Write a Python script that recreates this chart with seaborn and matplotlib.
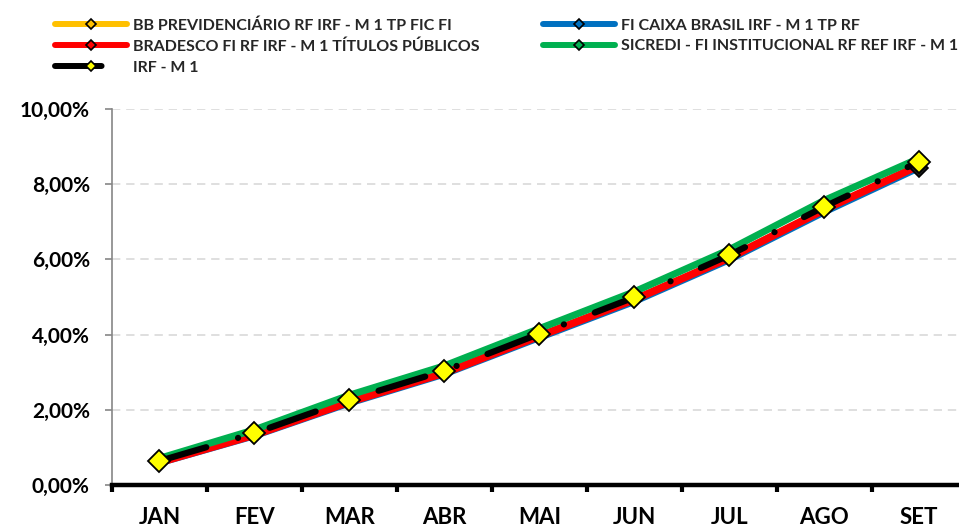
import matplotlib
matplotlib.use("Agg")
import matplotlib.pyplot as plt
import seaborn as sns
import numpy as np
from matplotlib.lines import Line2D

# ---- data ----
months = ["JAN", "FEV", "MAR", "ABR", "MAI", "JUN", "JUL", "AGO", "SET"]
bb_prev = [0.61, 1.34, 2.22, 2.99, 3.97, 4.94, 6.05, 7.33, 8.49]
caixa = [0.57, 1.29, 2.16, 2.93, 3.90, 4.86, 5.97, 7.24, 8.42]
bradesco = [0.60, 1.33, 2.21, 2.98, 3.96, 4.93, 6.04, 7.32, 8.50]
sicredi = [0.71, 1.47, 2.39, 3.17, 4.16, 5.14, 6.26, 7.57, 8.69]
irf_m1 = [0.64, 1.38, 2.27, 3.04, 4.02, 4.99, 6.11, 7.40, 8.60]

labels = {
    "bb": "BB PREVIDENCIÁRIO RF IRF - M 1 TP FIC FI",
    "caixa": "FI CAIXA BRASIL IRF - M 1 TP RF",
    "bradesco": "BRADESCO FI RF IRF - M 1 TÍTULOS PÚBLICOS",
    "sicredi": "SICREDI - FI INSTITUCIONAL RF REF IRF - M 1",
    "irf": "IRF - M 1",
}
yticks = [0, 2, 4, 6, 8, 10]
ytick_labels = ["0,00%", "2,00%", "4,00%", "6,00%", "8,00%", "10,00%"]

# ---- style ----
sns.set_theme(style="white")
plt.rcParams['font.family'] = ['Lato', 'DejaVu Sans']
plt.rcParams['font.weight'] = 'bold'

fig = plt.figure(figsize=(9.59, 5.31), dpi=100)
ax = fig.add_axes([112 / 959, 46 / 531, 847 / 959, 376 / 531])

x = np.arange(len(months))
irf_dash = (0, (7.8, 5.3, 0.01, 5.3))

series = [
    ("bb", bb_prev, "#FFC000", 4.5, 1),
    ("caixa", caixa, "#0070C0", 4.0, 2),
    ("bradesco", bradesco, "#FF0000", 5.5, 3),
    ("sicredi", sicredi, "#00B050", 5.0, 4),
]
for key, vals, col, lw, z in series:
    sns.lineplot(x=x, y=vals, ax=ax, color=col, lw=lw,
                 solid_capstyle="round", legend=False, zorder=z,
                 errorbar=None)

# end-point marker peeking out below the last IRF diamond
sns.lineplot(x=x, y=caixa, ax=ax, color="#0070C0", lw=0, marker="D",
             markersize=9, markerfacecolor="#1F1F1F", markeredgecolor="black",
             markeredgewidth=1.2, markevery=[len(months) - 1], legend=False,
             zorder=5, errorbar=None)

sns.lineplot(x=x, y=irf_m1, ax=ax, color="black", lw=4.5, linestyle=irf_dash,
             dash_capstyle="round", marker="D", markersize=11.5,
             markerfacecolor="#FFFF00", markeredgecolor="black",
             markeredgewidth=1.3, legend=False, zorder=6, errorbar=None)

# ---- axes ----
ax.set_xlim(-0.5, 8.42)
ax.set_ylim(0, 10)
ax.set_xlabel("")
ax.set_ylabel("")
ax.set_xticks(x)
ax.set_xticklabels(months, fontsize=16, fontweight="bold")
ax.set_xticks(np.arange(-0.5, 8.5, 1), minor=True)
ax.tick_params(axis="x", which="major", length=0, pad=16, colors="black")
ax.tick_params(axis="x", which="minor", length=5, width=3, direction="out",
               color="black", bottom=True)
ax.set_yticks(yticks)
ax.set_yticklabels(ytick_labels, fontsize=15, fontweight="bold")
ax.tick_params(axis="y", which="major", length=5, width=1.2, direction="out",
               color="#868686", left=True, pad=11, labelcolor="black")

ax.yaxis.grid(True, linestyle=(0, (5, 3.5)), color="#D9D9D9", lw=1.2)
ax.xaxis.grid(False)
ax.set_axisbelow(True)
for s in ["top", "right"]:
    ax.spines[s].set_visible(False)
ax.spines["left"].set_color("#868686")
ax.spines["left"].set_linewidth(1.2)
ax.spines["bottom"].set_color("black")
ax.spines["bottom"].set_linewidth(3.2)
ax.spines["bottom"].set_zorder(7)

# ---- legend ----
def proxy(col, face, ls="-", ms=5):
    return Line2D([], [], color=col, lw=4.3, linestyle=ls, marker="D",
                  markersize=ms, markerfacecolor=face, markeredgecolor="black",
                  markeredgewidth=1.2, solid_capstyle="round",
                  dash_capstyle="round")

handles = [
    proxy("#FFC000", "#FFC000"),
    proxy("#FF0000", "#FF0000"),
    proxy("black", "#FFFF00", ls=irf_dash),
    proxy("#0070C0", "#0070C0"),
    proxy("#00B050", "#00B050"),
]
leg_labels = [labels["bb"], labels["bradesco"], labels["irf"],
              labels["caixa"], labels["sicredi"]]
fig.legend(handles, leg_labels, loc="upper left", ncol=2, frameon=False,
           bbox_to_anchor=(55 / 959, 1 - 18 / 531), borderpad=0,
           borderaxespad=0, handlelength=4.5, handletextpad=0.4,
           labelspacing=0.42, columnspacing=3.95,
           prop={"family": ["Lato", "DejaVu Sans"], "weight": "bold", "size": 11.5})

fig.savefig("out.png", dpi=100)
